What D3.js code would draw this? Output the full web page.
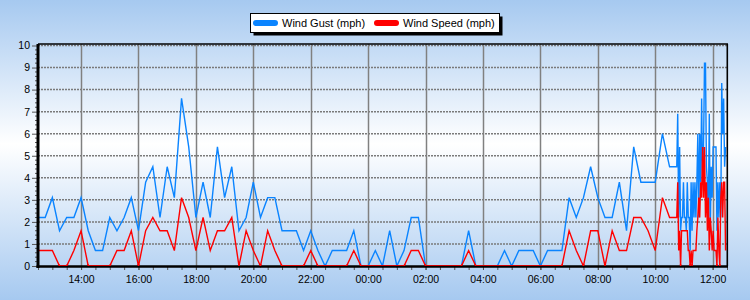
<!DOCTYPE html>
<html>
<head>
<meta charset="utf-8">
<script src="https://cdn.jsdelivr.net/npm/d3@7"></script>
<style>
  html, body { margin: 0; padding: 0; }
  svg { display: block; font-family: "Liberation Sans", Arial, sans-serif; }
</style>
</head>
<body>
<script>
// wind readings, every 15 minutes starting 12:30
const gust15 = [2.2, 2.2, 3.1, 1.6, 2.2, 2.2, 3.1, 1.6, 0.7, 0.7,
  2.2, 1.6, 2.2, 3.1, 1.6, 3.8, 4.5, 2.2, 4.5, 3.1,
  7.6, 5.4, 2.2, 3.8, 2.2, 5.4, 3.1, 4.5, 1.6, 2.2,
  3.8, 2.2, 3.1, 3.1, 1.6, 1.6, 1.6, 0.7, 1.6, 0.7,
  0, 0.7, 0.7, 0.7, 1.6, 0, 0, 0.7, 0, 1.6,
  0, 0.7, 2.2, 2.2, 0, 0, 0, 0, 0, 0,
  1.6, 0, 0, 0, 0, 0.7, 0, 0.7, 0.7, 0.7,
  0, 0.7, 0.7, 0.7, 3.1, 2.2, 3.1, 4.5, 3.1, 2.2,
  2.2, 3.8, 1.6, 5.4, 3.8, 3.8, 3.8, 6.0, 4.5, 4.5];
const speed15 = [0.7, 0.7, 0.7, 0, 0, 0.7, 1.6, 0, 0, 0,
  0, 0.7, 0.7, 1.6, 0, 1.6, 2.2, 1.6, 1.6, 0.7,
  3.1, 2.2, 0.7, 2.2, 0.7, 1.6, 1.6, 2.2, 0, 1.6,
  0.7, 0, 1.6, 0.7, 0, 0, 0, 0, 0.7, 0,
  0, 0, 0, 0, 0.7, 0, 0, 0, 0, 0,
  0, 0, 0.7, 0.7, 0, 0, 0, 0, 0, 0,
  0.7, 0, 0, 0, 0, 0, 0, 0, 0, 0,
  0, 0, 0, 0, 1.6, 0.7, 0, 1.6, 1.6, 0,
  1.6, 0.7, 0.7, 2.2, 2.2, 1.6, 0.7, 3.1, 2.2, 2.2];

// live readings, every 2 minutes starting 10:47
const gustLive = [6.9, 2.2, 5.4, 1.6, 2.2, 2.2, 3.8, 2.2, 2.2, 1.6,
  3.8, 2.2, 2.2, 0.7, 3.8, 1.6, 3.8, 2.2, 3.8, 2.2,
  3.8, 6.0, 2.2, 6.0, 3.8, 7.6, 3.8, 5.4, 9.2, 9.2,
  4.5, 3.8, 2.2, 6.9, 1.6, 4.5, 3.1, 5.4, 5.4, 5.4,
  5.4, 1.6, 3.8, 2.2, 3.8, 2.2, 8.3, 6.0, 7.6, 4.5, 5.4];
const speedLive = [3.8, 0.7, 1.6, 0, 1.6, 1.6, 1.6, 1.6, 1.6, 1.6,
  1.6, 0.7, 0.7, 0, 0.7, 0, 0.7, 0.7, 0.7, 0.7,
  1.6, 2.2, 3.1, 2.2, 3.8, 3.1, 5.4, 3.1, 5.4, 2.2,
  3.8, 1.6, 3.1, 0.7, 2.2, 1.6, 0.7, 1.6, 0.7, 0.7,
  0.7, 0, 2.2, 0.7, 0, 3.1, 3.8, 2.2, 3.8, 3.8, 0.7];

const xTickLabels = ["14:00", "16:00", "18:00", "20:00", "22:00", "00:00",
  "02:00", "04:00", "06:00", "08:00", "10:00", "12:00"];
const yTicks = [0, 1, 2, 3, 4, 5, 6, 7, 8, 9, 10];
const seriesNames = ["Wind Gust (mph)", "Wind Speed (mph)"];
const seriesColors = ["#0a84ff", "#ff0000"];

const width = 750, height = 300;
const mLeft = 38, mRight = 727, mTop = 44, mBottom = 266;

const start = new Date(2024, 0, 1, 12, 30);
const end = new Date(2024, 0, 2, 12, 30);
const liveStart = new Date(2024, 0, 2, 10, 47);

function toSeries(vals15, valsLive) {
  const a = vals15.map((v, i) => ({ t: d3.timeMinute.offset(start, 15 * i), v }));
  const b = valsLive.map((v, i) => ({ t: d3.timeMinute.offset(liveStart, 2 * i), v }));
  return a.concat(b);
}
const series = [toSeries(gust15, gustLive), toSeries(speed15, speedLive)];

const x = d3.scaleTime().domain([start, end]).range([mLeft, mRight]);
const y = d3.scaleLinear().domain([0, 10]).range([mBottom, 45.5]);

const tickDates = xTickLabels.map(s => {
  const h = +s.slice(0, 2);
  return h >= 13 ? new Date(2024, 0, 1, h) : new Date(2024, 0, 2, h);
});

const svg = d3.select("body").append("svg")
  .attr("width", width)
  .attr("height", height);

const defs = svg.append("defs");
const grad = defs.append("linearGradient")
  .attr("id", "bg").attr("x1", 0).attr("y1", 0).attr("x2", 0).attr("y2", 1);
grad.append("stop").attr("offset", "0%").attr("stop-color", "#a6c9f0");
grad.append("stop").attr("offset", "48%").attr("stop-color", "#ffffff");
grad.append("stop").attr("offset", "100%").attr("stop-color", "#a6c9f0");
defs.append("clipPath").attr("id", "zeroClip")
  .append("rect").attr("x", mLeft + 2).attr("y", mBottom - 2).attr("width", mRight - mLeft).attr("height", 2);

svg.append("rect").attr("width", width).attr("height", height).attr("fill", "url(#bg)");

// horizontal dotted grid
svg.append("g")
  .selectAll("line")
  .data(yTicks.filter(d => d > 0))
  .join("line")
  .attr("x1", mLeft).attr("x2", mRight)
  .attr("y1", d => y(d)).attr("y2", d => y(d))
  .attr("stroke", "#7a7a7a")
  .attr("stroke-width", 1.5)
  .attr("stroke-dasharray", "2,1");

// vertical grid
svg.append("g")
  .selectAll("line")
  .data(tickDates)
  .join("line")
  .attr("x1", d => Math.round(x(d)) + 0.5).attr("x2", d => Math.round(x(d)) + 0.5)
  .attr("y1", mTop).attr("y2", mBottom)
  .attr("stroke", "#808080")
  .attr("stroke-width", 1.5);

// the two series
const line = d3.line().x(d => x(d.t)).y(d => y(d.v));
svg.append("g")
  .selectAll("path")
  .data(series)
  .join("path")
  .attr("d", line)
  .attr("fill", "none")
  .attr("stroke", (d, i) => seriesColors[i])
  .attr("stroke-width", 1.4);

// frame
svg.append("line").attr("x1", mLeft).attr("x2", mRight + 1).attr("y1", mTop).attr("y2", mTop)
  .attr("stroke", "#000").attr("stroke-width", 1.5);
svg.append("line").attr("x1", mRight + 0.3).attr("x2", mRight + 0.3).attr("y1", mTop).attr("y2", mBottom)
  .attr("stroke", "#000").attr("stroke-width", 1.6);

// y axis
const yAxis = svg.append("g")
  .attr("transform", `translate(${mLeft},0)`)
  .call(d3.axisLeft(y).tickValues(yTicks).tickSize(6).tickPadding(2));
yAxis.select(".domain").remove();
yAxis.selectAll("text").attr("font-size", 10.5).attr("fill", "#000").attr("font-family", "Liberation Sans, Arial, sans-serif");
yAxis.selectAll("line").attr("stroke", "#555");
svg.append("g")
  .selectAll("line")
  .data(d3.range(0, 50).map(i => i * 0.2).filter(v => Math.abs(v - Math.round(v)) > 0.01))
  .join("line")
  .attr("x1", mLeft - 3).attr("x2", mLeft)
  .attr("y1", d => y(d)).attr("y2", d => y(d))
  .attr("stroke", "#555");

// x axis
const xMinor = svg.append("g")
  .attr("transform", `translate(0,${mBottom})`)
  .call(d3.axisBottom(x).ticks(d3.timeMinute.every(30)).tickSize(4).tickFormat(""));
xMinor.select(".domain").remove();
xMinor.selectAll("line").attr("stroke", "#555");
const xAxis = svg.append("g")
  .attr("transform", `translate(0,${mBottom})`)
  .call(d3.axisBottom(x).tickValues(tickDates).tickSize(4).tickPadding(6)
    .tickFormat((d, i) => xTickLabels[i]));
xAxis.select(".domain").remove();
xAxis.selectAll("line").attr("stroke", "#555");
xAxis.selectAll("text").attr("font-size", 10.5).attr("fill", "#000").attr("font-family", "Liberation Sans, Arial, sans-serif");

svg.append("line").attr("x1", mLeft).attr("x2", mLeft).attr("y1", mTop).attr("y2", mBottom + 2)
  .attr("stroke", "#000").attr("stroke-width", 3);
svg.append("line").attr("x1", mLeft - 1.5).attr("x2", mRight + 1).attr("y1", mBottom + 0.5).attr("y2", mBottom + 0.5)
  .attr("stroke", "#000").attr("stroke-width", 2.5);
// keep the red zero line visible above the axis
svg.append("path")
  .datum(series[1])
  .attr("d", line)
  .attr("fill", "none")
  .attr("stroke", seriesColors[1])
  .attr("stroke-width", 1.4)
  .attr("clip-path", "url(#zeroClip)");

// legend
const lg = svg.append("g");
lg.append("rect").attr("x", 253.5).attr("y", 16.5).attr("width", 249).attr("height", 19).attr("fill", "#000");
lg.append("rect").attr("x", 250.5).attr("y", 13.5).attr("width", 249).attr("height", 19)
  .attr("fill", "#fff").attr("stroke", "#000").attr("stroke-width", 1);
const legendX = [256, 377];
const item = lg.selectAll("g.item")
  .data(seriesNames)
  .join("g")
  .attr("class", "item")
  .attr("transform", (d, i) => `translate(${legendX[i]},0)`);
item.append("line")
  .attr("x1", 0).attr("x2", 19).attr("y1", 23).attr("y2", 23)
  .attr("stroke", (d, i) => seriesColors[i])
  .attr("stroke-width", 6)
  .attr("stroke-linecap", "round");
item.append("text")
  .attr("x", 26).attr("y", 27.3)
  .attr("font-size", 11)
  .attr("fill", "#000")
  .text(d => d);
</script>
</body>
</html>
